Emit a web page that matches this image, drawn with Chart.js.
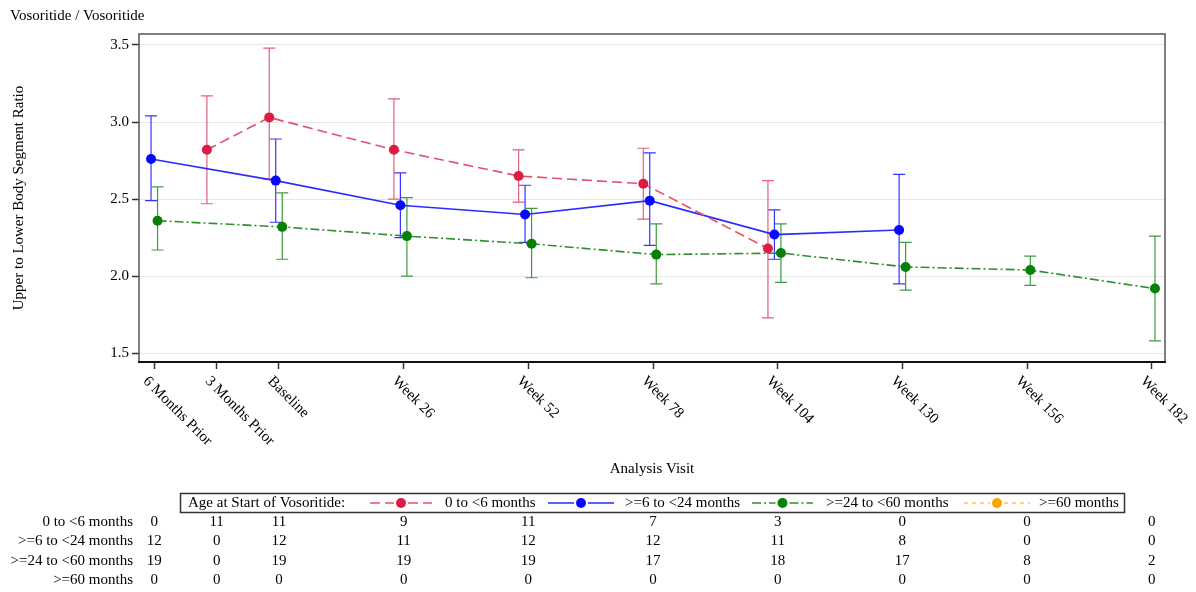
<!DOCTYPE html>
<html>
<head>
<meta charset="utf-8">
<title>Upper to Lower Body Segment Ratio by Analysis Visit</title>
<script src="https://cdn.jsdelivr.net/npm/chart.js@4.4.1/dist/chart.umd.min.js"></script>
<style>
  html, body { margin: 0; padding: 0; background: #ffffff; }
  canvas { display: block; }
</style>
</head>
<body>
<canvas id="chart" width="1196" height="592"></canvas>
<script>
// Analysis visits, placed on a week axis relative to the start of vosoritide
const visitLabels = ['6 Months Prior', '3 Months Prior', 'Baseline', 'Week 26', 'Week 52',
                     'Week 78', 'Week 104', 'Week 130', 'Week 156', 'Week 182'];
const visitWeeks = [-26, -13, 0, 26, 52, 78, 104, 130, 156, 182];
const yTickValues = [1.5, 2.0, 2.5, 3.0, 3.5];

const groupNames = ['0 to <6 months', '>=6 to <24 months', '>=24 to <60 months', '>=60 months'];

// Mean upper-to-lower body segment ratio with 95% CI per visit (null = no subjects)
const meanAge0to6  = [null, 2.82, 3.03, 2.82, 2.65, 2.60, 2.18, null, null, null];
const lowerAge0to6 = [null, 2.47, 2.63, 2.50, 2.48, 2.37, 1.73, null, null, null];
const upperAge0to6 = [null, 3.17, 3.48, 3.15, 2.82, 2.83, 2.62, null, null, null];

const meanAge6to24  = [2.76, null, 2.62, 2.46, 2.40, 2.49, 2.27, 2.30, null, null];
const lowerAge6to24 = [2.49, null, 2.35, 2.25, 2.22, 2.20, 2.11, 1.95, null, null];
const upperAge6to24 = [3.04, null, 2.89, 2.67, 2.59, 2.80, 2.43, 2.66, null, null];

const meanAge24to60  = [2.36, null, 2.32, 2.26, 2.21, 2.14, 2.15, 2.06, 2.04, 1.92];
const lowerAge24to60 = [2.17, null, 2.11, 2.00, 1.99, 1.95, 1.96, 1.91, 1.94, 1.58];
const upperAge24to60 = [2.58, null, 2.54, 2.51, 2.44, 2.34, 2.34, 2.22, 2.13, 2.26];

const meanAge60plus  = [null, null, null, null, null, null, null, null, null, null];
const lowerAge60plus = [null, null, null, null, null, null, null, null, null, null];
const upperAge60plus = [null, null, null, null, null, null, null, null, null, null];

// Number of subjects contributing at each visit
const nAge0to6   = [0, 11, 11, 9, 11, 7, 3, 0, 0, 0];
const nAge6to24  = [12, 0, 12, 11, 12, 12, 11, 8, 0, 0];
const nAge24to60 = [19, 0, 19, 19, 19, 17, 18, 17, 8, 2];
const nAge60plus = [0, 0, 0, 0, 0, 0, 0, 0, 0, 0];

const groupMeans  = [meanAge0to6, meanAge6to24, meanAge24to60, meanAge60plus];
const groupLowers = [lowerAge0to6, lowerAge6to24, lowerAge24to60, lowerAge60plus];
const groupUppers = [upperAge0to6, upperAge6to24, upperAge24to60, upperAge60plus];
const groupCounts = [nAge0to6, nAge6to24, nAge24to60, nAge60plus];

// Per-group drawing style; shift spreads the groups apart around each visit (in weeks)
const groupStyles = [
  { point: '#dc1c44', line: '#e3506e', bar: '#e2617d', dash: [10, 5],       shift: -2.03 },
  { point: '#0808ff', line: '#2b2bff', bar: '#3434ff', dash: [],            shift: -0.68 },
  { point: '#078007', line: '#2f8f2f', bar: '#3f9b3f', dash: [9, 3, 2, 3],  shift:  0.68 },
  { point: '#ffa500', line: '#ffc24f', bar: '#ffc24f', dash: [4, 4],        shift:  2.03 }
];

const SERIF = '"Liberation Serif", "Times New Roman", serif';
const TEXT = '#000000';
const MARK_R = 5;

const datasets = groupNames.map((name, g) => ({
  label: name,
  data: visitWeeks.map((w, i) => ({ x: w + groupStyles[g].shift, y: groupMeans[g][i] })),
  borderColor: groupStyles[g].line,
  borderWidth: 1.6,
  borderDash: groupStyles[g].dash,
  pointRadius: MARK_R,
  pointBorderWidth: 0,
  pointBackgroundColor: groupStyles[g].point,
  pointHoverRadius: MARK_R,
  spanGaps: true,
  tension: 0,
  fill: false
}));

function legendMarker(ctx, x0, x1, y, style) {
  ctx.save();
  ctx.strokeStyle = style.line;
  ctx.lineWidth = 1.5;
  ctx.setLineDash(style.dash);
  const mid = (x0 + x1) / 2;
  ctx.beginPath(); ctx.moveTo(x0, y); ctx.lineTo(mid - 7, y); ctx.stroke();
  ctx.beginPath(); ctx.moveTo(mid + 7, y); ctx.lineTo(x1, y); ctx.stroke();
  ctx.setLineDash([]);
  ctx.fillStyle = style.point;
  ctx.beginPath(); ctx.arc(mid, y, MARK_R, 0, Math.PI * 2); ctx.fill();
  ctx.restore();
}

const decorations = {
  id: 'decorations',
  beforeDatasetsDraw(chart) {
    const { ctx } = chart;
    const xs = chart.scales.x, ys = chart.scales.y;
    // 95% confidence interval bars with caps
    groupNames.forEach((_, g) => {
      const st = groupStyles[g];
      ctx.save();
      ctx.strokeStyle = st.bar;
      ctx.lineWidth = 1.2;
      visitWeeks.forEach((w, i) => {
        const lo = groupLowers[g][i], hi = groupUppers[g][i];
        if (lo == null || hi == null) return;
        const x = xs.getPixelForValue(w + st.shift);
        const yl = ys.getPixelForValue(lo), yh = ys.getPixelForValue(hi);
        ctx.beginPath();
        ctx.moveTo(x, yl); ctx.lineTo(x, yh);
        ctx.moveTo(x - 6, yl); ctx.lineTo(x + 6, yl);
        ctx.moveTo(x - 6, yh); ctx.lineTo(x + 6, yh);
        ctx.stroke();
      });
      ctx.restore();
    });
  },
  afterDraw(chart) {
    const { ctx, chartArea: a } = chart;
    const xs = chart.scales.x;
    ctx.save();

    // plot frame
    ctx.strokeStyle = '#555555';
    ctx.lineWidth = 1.5;
    ctx.strokeRect(a.left, a.top, a.right - a.left, a.bottom - a.top);
    ctx.strokeStyle = '#111111';
    ctx.lineWidth = 2;
    ctx.beginPath(); ctx.moveTo(a.left - 1, a.bottom); ctx.lineTo(a.right + 1, a.bottom); ctx.stroke();

    ctx.fillStyle = TEXT;
    ctx.font = '15px ' + SERIF;

    // title
    ctx.textAlign = 'left';
    ctx.textBaseline = 'middle';
    ctx.fillText('Vosoritide / Vosoritide', 10, 16);

    // y-axis title
    ctx.save();
    ctx.translate(19, (a.top + a.bottom) / 2);
    ctx.rotate(-Math.PI / 2);
    ctx.textAlign = 'center';
    ctx.fillText('Upper to Lower Body Segment Ratio', 0, 0);
    ctx.restore();

    // slanted visit labels
    visitWeeks.forEach((w, i) => {
      const x = xs.getPixelForValue(w);
      ctx.save();
      ctx.translate(x - 9, a.bottom + 17);
      ctx.rotate(Math.PI / 4);
      ctx.textAlign = 'left';
      ctx.textBaseline = 'middle';
      ctx.fillText(visitLabels[i], 0, 0);
      ctx.restore();
    });

    // x-axis title
    ctx.textAlign = 'center';
    ctx.fillText('Analysis Visit', (a.left + a.right) / 2, 469);

    // legend
    const ly = 503;
    ctx.strokeStyle = '#333333';
    ctx.lineWidth = 1.5;
    ctx.strokeRect(180.5, 493.5, 944, 19);
    ctx.textAlign = 'left';
    ctx.fillText('Age at Start of Vosoritide:', 188, ly);
    const markerSpans = [[370, 432], [548, 614], [752, 813], [964, 1030]];
    const textStarts = [445, 625, 826, 1039];
    groupNames.forEach((name, g) => {
      legendMarker(ctx, markerSpans[g][0], markerSpans[g][1], ly, groupStyles[g]);
      ctx.fillStyle = TEXT;
      ctx.fillText(name, textStarts[g], ly);
    });

    // subject counts table
    const rowY = [522, 541, 561, 580];
    groupNames.forEach((name, g) => {
      ctx.textAlign = 'right';
      ctx.fillText(name, 133, rowY[g]);
      ctx.textAlign = 'center';
      visitWeeks.forEach((w, i) => {
        ctx.fillText(String(groupCounts[g][i]), xs.getPixelForValue(w), rowY[g]);
      });
    });

    ctx.restore();
  }
};

new Chart(document.getElementById('chart'), {
  type: 'line',
  data: { datasets },
  options: {
    responsive: false,
    animation: false,
    events: [],
    layout: { padding: { left: 0, top: 34, right: 31, bottom: 0 } },
    plugins: { legend: { display: false }, tooltip: { enabled: false } },
    scales: {
      x: {
        type: 'linear',
        min: -29.19,
        max: 184.77,
        afterBuildTicks: (s) => { s.ticks = visitWeeks.map(v => ({ value: v })); },
        afterFit: (s) => { s.height = 230; },
        ticks: { display: false },
        grid: { drawOnChartArea: false, drawTicks: true, tickLength: 7, tickColor: '#333333', tickWidth: 1.5 },
        border: { display: false }
      },
      y: {
        type: 'linear',
        min: 1.4435,
        max: 3.571,
        afterBuildTicks: (s) => { s.ticks = yTickValues.map(v => ({ value: v })); },
        afterFit: (s) => { s.width = 139; },
        ticks: {
          font: { family: SERIF, size: 15 },
          color: TEXT,
          padding: 3,
          callback: (v) => Number(v).toFixed(1)
        },
        grid: { color: '#e6e6e6', lineWidth: 1, tickLength: 7, tickColor: '#333333', tickWidth: 1.5 },
        border: { display: false }
      }
    }
  },
  plugins: [decorations]
});
</script>
</body>
</html>
